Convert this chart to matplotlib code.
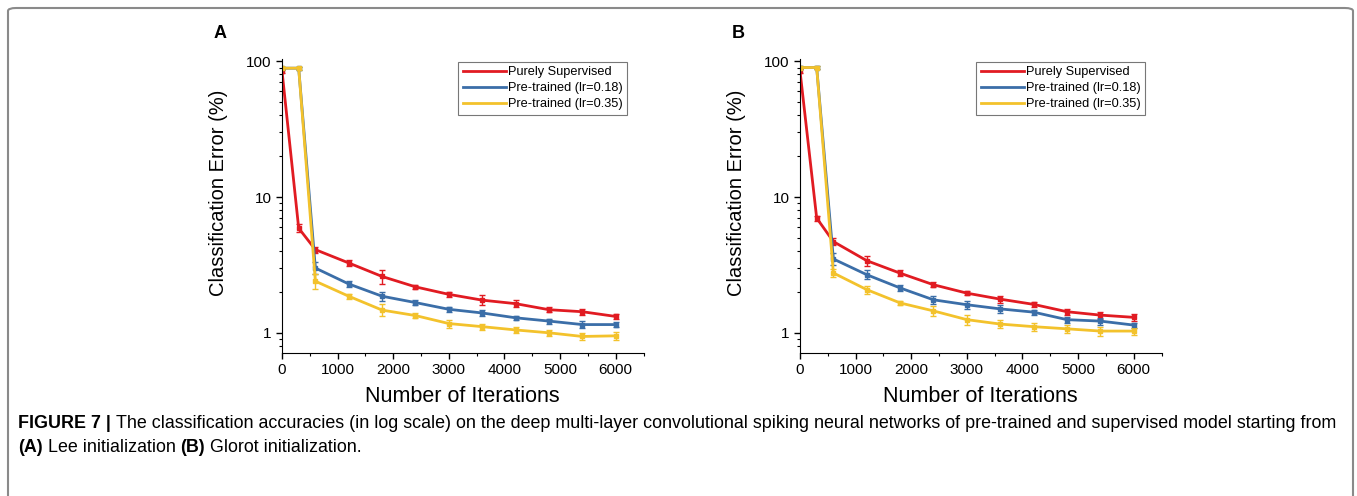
import matplotlib
matplotlib.use('Agg')
import matplotlib.pyplot as plt
from matplotlib.patches import FancyBboxPatch
from matplotlib.lines import Line2D

plt.rcParams['font.family'] = ['Liberation Sans', 'DejaVu Sans']

## data
iters = [0, 300, 600, 1200, 1800, 2400, 3000, 3600, 4200, 4800, 5400, 6000]
series_names = ['Purely Supervised', 'Pre-trained (lr=0.18)', 'Pre-trained (lr=0.35)']

a_sup = [85, 5.9, 4.1, 3.27, 2.6, 2.18, 1.92, 1.74, 1.64, 1.48, 1.43, 1.32]
a_p18 = [89, 89, 3.0, 2.29, 1.86, 1.67, 1.49, 1.40, 1.29, 1.22, 1.15, 1.15]
a_p35 = [89, 89, 2.4, 1.86, 1.47, 1.34, 1.17, 1.11, 1.05, 1.0, 0.94, 0.95]
a_sup_err = [3, 0.4, 0.2, 0.15, 0.3, 0.08, 0.08, 0.15, 0.1, 0.06, 0.08, 0.06]
a_p18_err = [2, 2, 0.3, 0.1, 0.15, 0.06, 0.06, 0.08, 0.05, 0.05, 0.07, 0.05]
a_p35_err = [2, 2, 0.3, 0.08, 0.15, 0.06, 0.08, 0.06, 0.06, 0.05, 0.06, 0.06]

b_sup = [85, 7.0, 4.7, 3.4, 2.75, 2.26, 1.96, 1.77, 1.62, 1.43, 1.35, 1.30]
b_p18 = [90, 90, 3.5, 2.68, 2.14, 1.75, 1.61, 1.50, 1.42, 1.25, 1.22, 1.14]
b_p35 = [90, 90, 2.76, 2.08, 1.66, 1.45, 1.25, 1.16, 1.11, 1.07, 1.03, 1.03]
b_sup_err = [3, 0.3, 0.3, 0.3, 0.15, 0.1, 0.06, 0.1, 0.08, 0.08, 0.08, 0.08]
b_p18_err = [2, 2, 0.35, 0.2, 0.1, 0.12, 0.1, 0.1, 0.06, 0.06, 0.07, 0.05]
b_p35_err = [2, 2, 0.2, 0.15, 0.06, 0.12, 0.1, 0.08, 0.08, 0.08, 0.08, 0.06]

colors = ['#e11b22', '#3b6ea8', '#f3c22c']

caption1 = [('FIGURE 7 | ', 'bold'),
            ('The classification accuracies (in log scale) on the deep multi-layer convolutional spiking neural networks of pre-trained and supervised model starting from', 'normal')]
caption2 = [('(A)', 'bold'), (' Lee initialization ', 'normal'), ('(B)', 'bold'), (' Glorot initialization.', 'normal')]

W, H = 1357, 496
fig = plt.figure(figsize=(W / 100, H / 100), dpi=100)

# outer frame
frame = FancyBboxPatch((8 / W, -0.05), (1353 - 8) / W, (H - 8) / H + 0.05,
                       boxstyle='round,pad=0,rounding_size=0.006',
                       transform=fig.transFigure, fill=False,
                       edgecolor='#8a8a8a', linewidth=1.5)
fig.patches.append(frame)


def panel(left_px, data, errs, letter):
    ax = fig.add_axes([left_px / W, (H - 353) / H, 361.5 / W, 294 / H])
    for y, e, c, name in zip(data, errs, colors, series_names):
        ax.errorbar(iters, y, yerr=e, color=c, lw=2, marker='s', ms=3.5,
                    capsize=2.5, elinewidth=1, capthick=1)
    ax.set_yscale('log')
    ax.set_xlim(0, 6500)
    ax.set_ylim(0.71, 104)
    ax.set_xticks(range(0, 7000, 1000))
    ax.set_xticks(range(500, 7000, 1000), minor=True)
    ax.set_yticks([1, 10, 100])
    ax.set_yticklabels(['1', '10', '100'])
    ax.tick_params(labelsize=11, direction='out', length=4, width=1)
    ax.tick_params(which='minor', length=2.5, width=0.8)
    for s in ['top', 'right']:
        ax.spines[s].set_visible(False)
    ax.set_xlabel('Number of Iterations', fontsize=15.5, labelpad=6)
    ax.set_ylabel('Classification Error (%)', fontsize=14.5)
    ax.yaxis.set_label_coords(-0.15, 0.545)
    handles = [Line2D([], [], color=c, lw=2) for c in colors]
    leg = ax.legend(handles, series_names, loc='upper left',
                    bbox_to_anchor=(0.487, 0.99), fontsize=9.2,
                    fancybox=False, edgecolor='#777777', handlelength=3.4,
                    handletextpad=0.15, borderpad=0.35, labelspacing=0.3,
                    borderaxespad=0, framealpha=1)
    leg.get_frame().set_linewidth(0.8)
    fig.text((left_px - 68) / W, 1 - 33 / H, letter, fontsize=13,
             fontweight='bold', ha='left', va='center')
    return ax


panel(282, [a_sup, a_p18, a_p35], [a_sup_err, a_p18_err, a_p35_err], 'A')
panel(800, [b_sup, b_p18, b_p35], [b_sup_err, b_p18_err, b_p35_err], 'B')

# caption with mixed weights
renderer = fig.canvas.get_renderer()


def caption_line(pieces, x_px, y_px, size):
    x = x_px / W
    for txt, wt in pieces:
        t = fig.text(x, 1 - y_px / H, txt, fontsize=size, fontweight=wt,
                     ha='left', va='center')
        bb = t.get_window_extent(renderer=renderer)
        x = bb.x1 / W


caption_line(caption1, 18, 423, 12.9)
caption_line(caption2, 18, 447, 12.9)

fig.savefig('out.png', dpi=100)
